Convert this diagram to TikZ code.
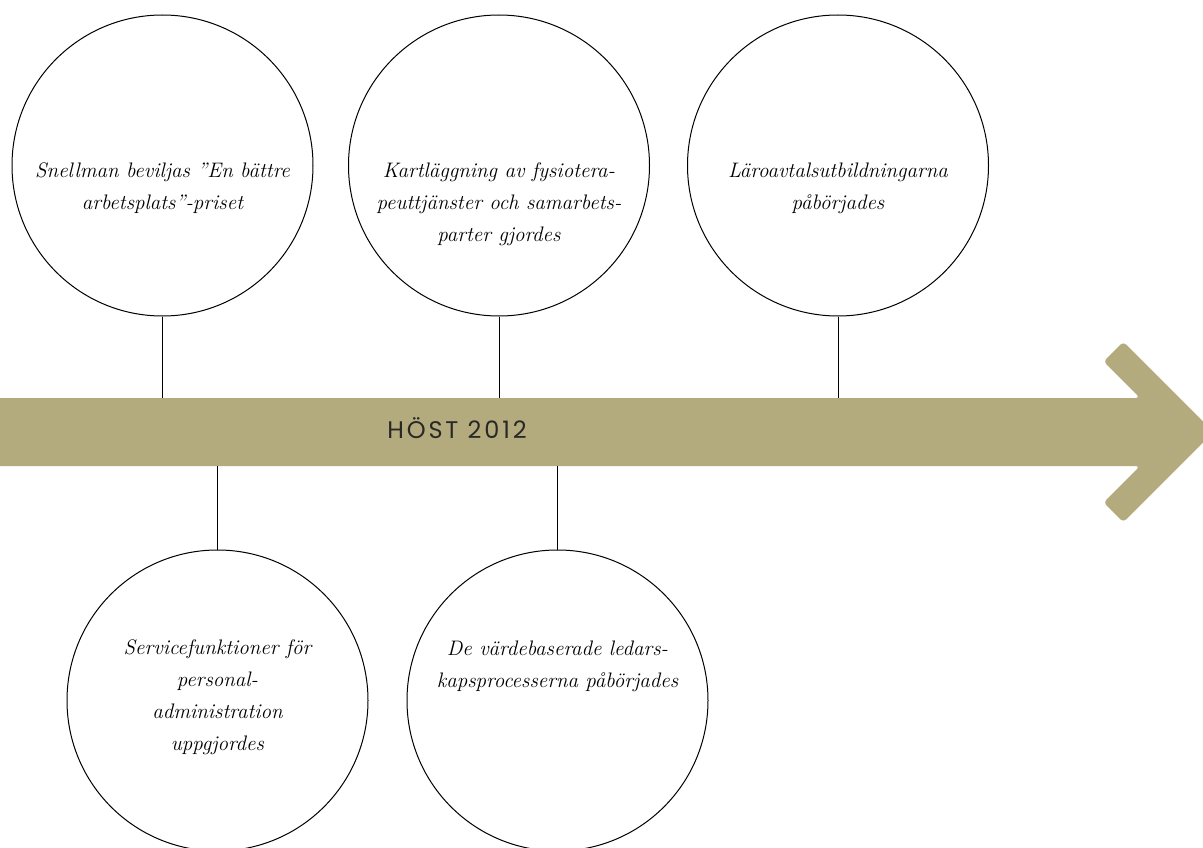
\documentclass[tikz,border=0pt]{standalone}
\usepackage{fontspec}
\newfontfamily\hostfont[LetterSpace=12]{Poppins}
\definecolor{barcol}{RGB}{179,171,126}
\definecolor{hosttext}{RGB}{40,40,36}
\begin{document}
\begin{tikzpicture}[x=1pt,y=-1pt,
  event/.style={circle, draw=black, line width=1pt, minimum size=301pt, inner sep=0pt},
  evtext/.style={anchor=base, align=center, inner sep=0pt, font=\fontsize{21}{32}\selectfont\itshape},
  stem/.style={draw=black, line width=1pt}]
\useasboundingbox (0,0) rectangle (1203,848);
\clip (0,0) rectangle (1203,848);
% timeline arrow
\fill[barcol, rounded corners=4pt]
  (-20,398) -- (1140,398) -- (1103.5,361.5) -- (1123.3,341.7) -- (1213.6,432)
  -- (1123.3,522.3) -- (1103.5,502.5) -- (1140,466) -- (-20,466) -- cycle;
\coordinate (bartop) at (0,398);
\coordinate (barbot) at (0,466);
\node[anchor=base, font=\hostfont\fontsize{24}{28}\selectfont, text=hosttext, inner sep=0pt] (year) at (457,438) {HÖST 2012};
% events above
\node[event] (e1) at (162.5,165.5) {};
\node[event] (e2) at (499,165.5) {};
\node[event] (e3) at (838,165.5) {};
% events below
\node[event] (e4) at (217.5,700.5) {};
\node[event] (e5) at (557.5,700.5) {};
% stems
\draw[stem] (e1.south) -- (e1.south |- bartop);
\draw[stem] (e2.south) -- (e2.south |- bartop);
\draw[stem] (e3.south) -- (e3.south |- bartop);
\draw[stem] (e4.north) -- (e4.north |- barbot);
\draw[stem] (e5.north) -- (e5.north |- barbot);
% texts (anchor = baseline of the last line)
\node[evtext] (t1) at (162.5,209) {Snellman beviljas ”En bättre\\arbetsplats”-priset};
\node[evtext] (t2) at (499,241) {Kartläggning av fysiotera-\\peuttjänster och samarbets-\\parter gjordes};
\node[evtext] (t3) at (838,209) {Läroavtalsutbildningarna\\påbörjades};
\node[evtext] (t4) at (217.5,750) {Servicefunktioner för\\personal-\\administration\\uppgjordes};
\node[evtext] (t5) at (557.5,687) {De värdebaserade ledars-\\kapsprocesserna påbörjades};
\end{tikzpicture}
\end{document}
